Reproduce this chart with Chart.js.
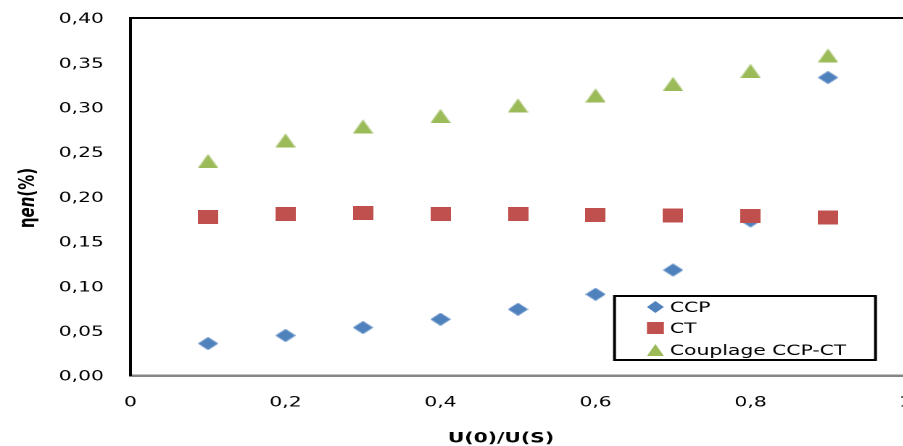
<!DOCTYPE html>
<html>
<head>
<meta charset="utf-8">
<script src="https://cdn.jsdelivr.net/npm/chart.js@4/dist/chart.umd.min.js"></script>
<style>
  html, body { margin: 0; padding: 0; background: #fff; overflow: hidden; }
  #wrap { width: 635px; height: 446px; transform: scaleX(1.45); transform-origin: 0 0; }
</style>
</head>
<body>
<div id="wrap"><canvas id="chart" width="635" height="446"></canvas></div>
<script>
// U(0)/U(S) ratios
const ratios = [0.1, 0.2, 0.3, 0.4, 0.5, 0.6, 0.7, 0.8, 0.9];
// efficiency values per configuration
const ccp = [0.0358, 0.0448, 0.0537, 0.0629, 0.0741, 0.0909, 0.1180, 0.1730, 0.3334];
const ct = [0.1773, 0.1807, 0.1818, 0.1807, 0.1807, 0.1796, 0.1790, 0.1785, 0.1768];
const couplage = [0.2399, 0.2629, 0.2786, 0.2903, 0.3021, 0.3133, 0.3262, 0.3407, 0.3580];
// axis tick labels
const xTickLabels = ['0', '0,2', '0,4', '0,6', '0,8', '1'];
const yTickLabels = ['0,00', '0,05', '0,10', '0,15', '0,20', '0,25', '0,30', '0,35', '0,40'];
const seriesNames = ['CCP', 'CT', 'Couplage CCP-CT'];

const COLORS = { diamond: '#4F81BD', square: '#C0504D', triangle: '#9BBB59' };
const FONT = '"DejaVu Sans", Verdana, sans-serif';

function drawMarker(ctx, kind, cx, cy, w, h) {
  ctx.save();
  ctx.fillStyle = COLORS[kind];
  ctx.beginPath();
  if (kind === 'diamond') {
    ctx.moveTo(cx, cy - h / 2);
    ctx.lineTo(cx + w / 2, cy);
    ctx.lineTo(cx, cy + h / 2);
    ctx.lineTo(cx - w / 2, cy);
  } else if (kind === 'square') {
    ctx.rect(cx - w / 2, cy - h / 2, w, h);
  } else {
    ctx.moveTo(cx, cy - h / 2);
    ctx.lineTo(cx + w / 2, cy + h / 2);
    ctx.lineTo(cx - w / 2, cy + h / 2);
  }
  ctx.closePath();
  ctx.fill();
  ctx.restore();
}

function markerCanvas(kind, w, h) {
  const c = document.createElement('canvas');
  c.width = w; c.height = h;
  drawMarker(c.getContext('2d'), kind, w / 2, h / 2, w, h);
  return c;
}

const pts = vals => ratios.map((x, i) => ({ x, y: vals[i] }));

// plot frame top line, axis titles and boxed legend
const decorations = {
  id: 'decorations',
  afterDraw(chart) {
    const { ctx, chartArea: a } = chart;
    ctx.save();
    ctx.strokeStyle = '#000';
    ctx.lineWidth = 2;
    ctx.beginPath();
    ctx.moveTo(a.left - 1, a.top);
    ctx.lineTo(chart.width, a.top);
    ctx.stroke();

    // x axis title
    ctx.fillStyle = '#000';
    ctx.font = 'bold 14px ' + FONT;
    ctx.textAlign = 'center';
    ctx.textBaseline = 'alphabetic';
    ctx.fillText('U(0)/U(S)', 345.5, 442.5);

    // y axis title, rotated, with italic letters after eta
    const parts = [
      { t: '\u03B7', f: 'bold 15px ' + FONT },
      { t: 'en', f: 'italic bold 15px ' + FONT },
      { t: '(%)', f: 'bold 15px ' + FONT }
    ];
    let total = 0;
    parts.forEach(p => { ctx.font = p.f; p.w = ctx.measureText(p.t).width; total += p.w; });
    ctx.translate(23.5, 198);
    ctx.rotate(-Math.PI / 2);
    ctx.textAlign = 'left';
    let px = -total / 2;
    parts.forEach(p => { ctx.font = p.f; ctx.fillText(p.t, px, 0); px += p.w; });
    ctx.restore();

    // legend
    ctx.save();
    ctx.fillStyle = '#fff';
    ctx.fillRect(423.8, 296, 180, 64);
    ctx.strokeStyle = '#000';
    ctx.lineWidth = 2;
    ctx.strokeRect(423.8, 296, 180, 64);
    const kinds = ['diamond', 'square', 'triangle'];
    const rows = [307, 328, 350];
    ctx.font = '14px ' + FONT;
    ctx.fillStyle = '#000';
    ctx.textAlign = 'left';
    ctx.textBaseline = 'alphabetic';
    kinds.forEach((k, i) => {
      drawMarker(ctx, k, 452, rows[i], 11.7, 12);
      ctx.fillText(seriesNames[i], 462, rows[i] + 5.2);
    });
    ctx.restore();
  }
};

new Chart(document.getElementById('chart'), {
  type: 'scatter',
  data: {
    datasets: [
      { label: seriesNames[0], data: pts(ccp), order: 3,
        pointStyle: markerCanvas('diamond', 14, 13), backgroundColor: COLORS.diamond },
      { label: seriesNames[1], data: pts(ct), order: 2,
        pointStyle: markerCanvas('square', 14, 14), backgroundColor: COLORS.square },
      { label: seriesNames[2], data: pts(couplage), order: 1,
        pointStyle: markerCanvas('triangle', 14, 14), backgroundColor: COLORS.triangle }
    ]
  },
  options: {
    responsive: false,
    animation: false,
    devicePixelRatio: 2,
    layout: { padding: { top: 18, right: 10.5, left: 0, bottom: 0 } },
    plugins: { legend: { display: false }, tooltip: { enabled: false } },
    scales: {
      x: {
        type: 'linear', min: 0, max: 1,
        grid: { display: false, drawTicks: false },
        border: { display: true, color: '#868686', width: 2.5 },
        ticks: {
          stepSize: 0.2, padding: 19, color: '#000',
          font: { family: FONT, size: 14 },
          callback: (v, i) => xTickLabels[i]
        },
        afterFit: s => { s.height = 70.5; s.paddingLeft = 0; s.paddingRight = 0; }
      },
      y: {
        type: 'linear', min: 0, max: 0.4,
        grid: { display: false, drawTicks: false },
        border: { display: true, color: '#000', width: 2 },
        ticks: {
          stepSize: 0.05, padding: 18.3, labelOffset: 1.5, color: '#000',
          font: { family: FONT, size: 14 },
          callback: (v, i) => yTickLabels[i]
        },
        afterFit: s => { s.width = 90; s.paddingTop = 0; s.paddingBottom = 0; }
      }
    }
  },
  plugins: [decorations]
});
</script>
</body>
</html>
